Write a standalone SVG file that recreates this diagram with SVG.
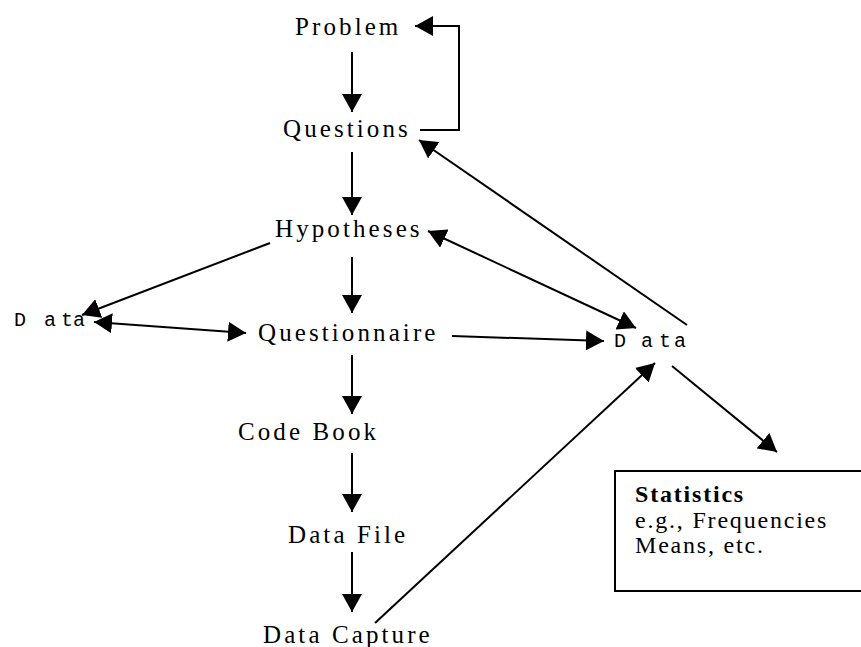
<svg xmlns="http://www.w3.org/2000/svg" width="861" height="647" viewBox="0 0 861 647">
<style>
.lbl{font-size:25px;letter-spacing:3.1px;fill:#000}
.box{font-size:24px;letter-spacing:1.8px;fill:#000}
.mono{font-size:20px;fill:#000}
.c{fill:none;stroke:#000;stroke-width:2}
</style>
<defs>
<marker id="ah" viewBox="0 0 18 20" refX="18" refY="10" markerWidth="18" markerHeight="20" markerUnits="userSpaceOnUse" orient="auto-start-reverse">
<path d="M0,0 L18,10 L0,20 z" fill="#000"/>
</marker>
</defs>
<rect width="861" height="647" fill="#fff"/>
<g id="connectors">
<line class="c" x1="352" y1="52" x2="352" y2="112" marker-end="url(#ah)"/>
<polyline class="c" points="420,130 459,130 459,26 415,26" marker-end="url(#ah)"/>
<line class="c" x1="352" y1="152" x2="352" y2="215" marker-end="url(#ah)"/>
<line class="c" x1="352" y1="257" x2="352" y2="313" marker-end="url(#ah)"/>
<line class="c" x1="352" y1="355" x2="352" y2="414" marker-end="url(#ah)"/>
<line class="c" x1="352" y1="453" x2="352" y2="512" marker-end="url(#ah)"/>
<line class="c" x1="352" y1="552" x2="352" y2="612" marker-end="url(#ah)"/>
<line class="c" x1="270" y1="243" x2="82" y2="315" marker-end="url(#ah)"/>
<line class="c" x1="94" y1="322" x2="246" y2="333" marker-start="url(#ah)" marker-end="url(#ah)"/>
<line class="c" x1="452" y1="336" x2="604" y2="341" marker-end="url(#ah)"/>
<line class="c" x1="428" y1="231" x2="636" y2="328" marker-start="url(#ah)" marker-end="url(#ah)"/>
<line class="c" x1="687" y1="325" x2="419" y2="140" marker-end="url(#ah)"/>
<line class="c" x1="672" y1="366" x2="777" y2="452" marker-end="url(#ah)"/>
<line class="c" x1="375" y1="623" x2="655" y2="363" marker-end="url(#ah)"/>
</g>
<g font-family="Liberation Serif, serif">
<g id="problem"><text class="lbl" x="295" y="35">Problem</text></g>
<g id="questions"><text class="lbl" x="283" y="137">Questions</text></g>
<g id="hypotheses"><text class="lbl" x="275" y="237">Hypotheses</text></g>
<g id="questionnaire"><text class="lbl" x="258" y="341">Questionnaire</text></g>
<g id="codebook"><text class="lbl" x="238" y="440">Code Book</text></g>
<g id="datafile"><text class="lbl" x="288" y="543">Data File</text></g>
<g id="datacapture"><text class="lbl" x="263" y="643">Data Capture</text></g>
<g id="statistics">
<rect x="615" y="471" width="260" height="120" fill="none" stroke="#000" stroke-width="2"/>
<text class="box" x="635" y="502" font-weight="bold">Statistics</text>
<text class="box" x="635" y="528">e.g., Frequencies</text>
<text class="box" x="635" y="553">Means, etc.</text>
</g>
</g>
<g font-family="Liberation Mono, monospace">
<g id="data-left"><text class="mono" x="14 44 61 73" y="326">Data</text></g>
<g id="data-right"><text class="mono" x="614 641 659 674" y="347">Data</text></g>
</g>
</svg>
